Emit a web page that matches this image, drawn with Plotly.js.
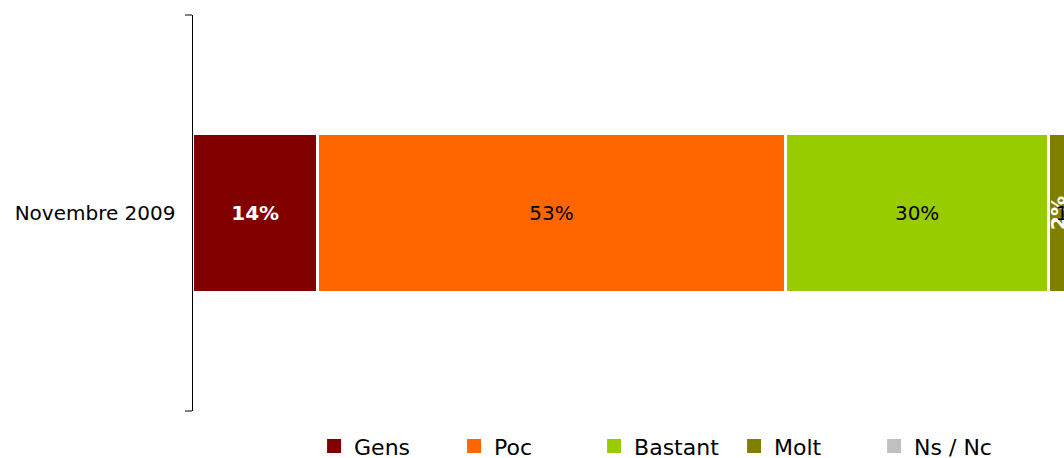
<!DOCTYPE html>
<html>
<head>
<meta charset="utf-8">
<script src="https://cdn.plot.ly/plotly-3.0.1.min.js"></script>
<style>html,body{margin:0;padding:0;background:#fff;overflow:hidden}</style>
</head>
<body>
<div id="chart" style="width:1064px;height:458px"></div>
<script>
const categories = ["Novembre 2009"];
const seriesNames = ["Gens", "Poc", "Bastant", "Molt", "Ns / Nc"];
const gens = [14.1];
const poc = [53.1];
const bastant = [29.8];
const molt = [2.2];
const nsnc = [0.8];

const colors = ["#800000", "#FF6600", "#99CC00", "#808000", "#C0C0C0"];
const textColors = ["#ffffff", "#000000", "#000000", "#ffffff", "#000000"];
const textWeights = ["bold", "normal", "normal", "bold", "normal"];
const textAngles = [0, 0, 0, -90, 0];
const allValues = [gens, poc, bastant, molt, nsnc];

const barTraces = allValues.map((vals, i) => ({
  type: "bar",
  orientation: "h",
  name: seriesNames[i],
  y: categories,
  x: vals,
  showlegend: false,
  marker: {color: colors[i], line: {color: "#ffffff", width: 2.5}},
  text: vals.map(v => Math.round(v) + "%"),
  textposition: "inside",
  insidetextanchor: "middle",
  textangle: textAngles[i],
  constraintext: "none",
  textfont: {family: "DejaVu Sans", size: 20, color: textColors[i], weight: textWeights[i]},
  hoverinfo: "none"
}));

// legend entries (square swatches like the reference)
const legendTraces = seriesNames.map((n, i) => ({
  type: "scatter",
  mode: "markers",
  name: n,
  x: [null],
  y: [null],
  marker: {symbol: "square", size: 14, color: colors[i]},
  hoverinfo: "none"
}));

const layout = {
  width: 1064,
  height: 458,
  margin: {l: 193, r: 0, t: 15, b: 47, pad: 0, autoexpand: false},
  paper_bgcolor: "#ffffff",
  plot_bgcolor: "#ffffff",
  barmode: "stack",
  bargap: 0.6,
  showlegend: true,
  xaxis: {
    range: [0, 98.75],
    visible: false,
    fixedrange: true
  },
  yaxis: {
    type: "category",
    range: [-0.5, 0.5],
    showline: true,
    linecolor: "#000000",
    linewidth: 1.5,
    ticks: "outside",
    tickson: "boundaries",
    ticklen: 7,
    tickcolor: "#808080",
    tickwidth: 1.5,
    ticklabelstandoff: 12,
    showgrid: false,
    zeroline: false,
    tickfont: {family: "DejaVu Sans", size: 20, color: "#000000"}
  },
  legend: {
    orientation: "h",
    x: 0.139,
    xanchor: "left",
    y: -0.036,
    yanchor: "top",
    entrywidth: 95,
    entrywidthmode: "pixels",
    font: {family: "DejaVu Sans", size: 22, color: "#000000"},
    traceorder: "normal"
  }
};

Plotly.newPlot("chart", barTraces.concat(legendTraces), layout, {displayModeBar: false, staticPlot: true});
</script>
</body>
</html>
